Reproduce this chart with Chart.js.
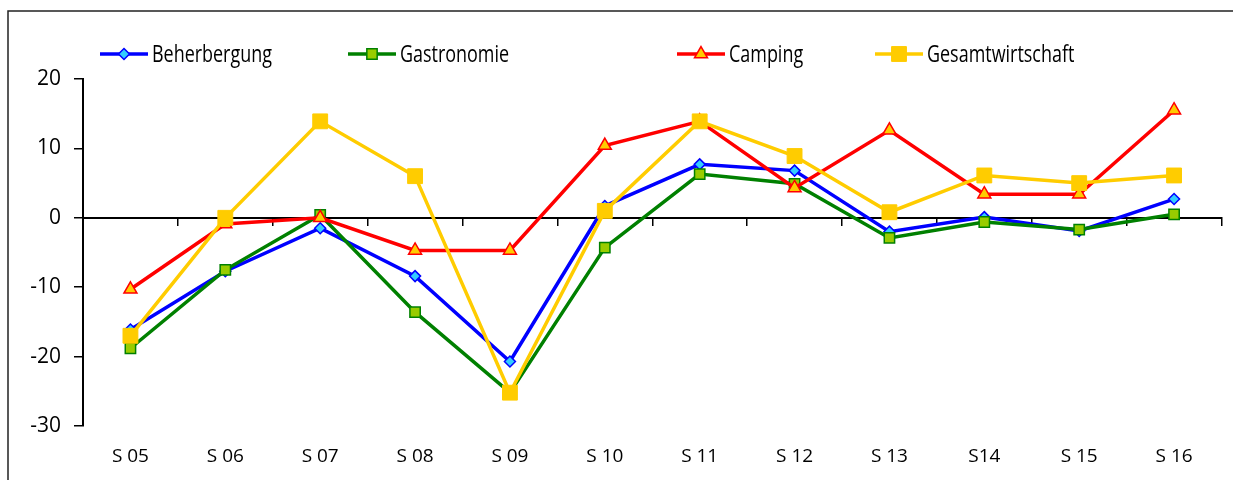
<!DOCTYPE html>
<html><head><meta charset="utf-8">
<script src="https://cdn.jsdelivr.net/npm/chart.js@4.4.1/dist/chart.umd.min.js"></script>
<style>html,body{margin:0;padding:0;background:#fff;} #wrap{width:1233px;height:480px;position:relative;}</style>
</head><body><div id="wrap"><canvas id="c"></canvas></div>
<script>
const categories = ['S 05','S 06','S 07','S 08','S 09','S 10','S 11','S 12','S 13','S14','S 15','S 16'];
const beherbergung = [-16.1,-7.7,-1.5,-8.4,-20.7,1.7,7.7,6.8,-2.0,0.1,-1.9,2.7];
const gastronomie = [-18.8,-7.5,0.4,-13.6,-25.2,-4.3,6.3,4.9,-2.9,-0.6,-1.7,0.5];
const camping = [-10.3,-0.9,0.0,-4.7,-4.7,10.4,13.9,4.3,12.6,3.4,3.4,15.5];
const gesamtwirtschaft = [-17.0,0.0,13.9,6.0,-25.2,1.0,13.9,8.9,0.8,6.1,5.0,6.1];
const seriesNames = ['Beherbergung','Gastronomie','Camping','Gesamtwirtschaft'];
const yMin = -30, yMax = 20, yStep = 10;

const tickFont = "'Open Sans', 'DejaVu Sans', sans-serif";
const legendFont = "'Open Sans', 'DejaVu Sans Condensed', sans-serif";

function drawMarker(ctx, style, x, y, r, fill, stroke, bw) {
  ctx.save();
  ctx.beginPath();
  if (style === 'rect') {
    const s = r * Math.SQRT1_2;
    ctx.rect(x - s, y - s, 2 * s, 2 * s);
  } else if (style === 'rectRot') {
    ctx.moveTo(x, y - r); ctx.lineTo(x + r, y); ctx.lineTo(x, y + r); ctx.lineTo(x - r, y); ctx.closePath();
  } else if (style === 'triangle') {
    const a = -Math.PI / 2;
    ctx.moveTo(x + Math.cos(a) * r, y + Math.sin(a) * r);
    ctx.lineTo(x + Math.cos(a + 2 * Math.PI / 3) * r, y + Math.sin(a + 2 * Math.PI / 3) * r);
    ctx.lineTo(x + Math.cos(a + 4 * Math.PI / 3) * r, y + Math.sin(a + 4 * Math.PI / 3) * r);
    ctx.closePath();
  }
  ctx.fillStyle = fill; ctx.fill();
  if (bw) { ctx.lineWidth = bw; ctx.strokeStyle = stroke; ctx.stroke(); }
  ctx.restore();
}

const customLegend = {
  id: 'customLegend',
  afterDraw(chart, args, opts) {
    const ctx = chart.ctx;
    const byLabel = {};
    chart.data.datasets.forEach(d => byLabel[d.label] = d);
    seriesNames.forEach((name, i) => {
      const d = byLabel[name];
      const x0 = opts.starts[i], y = opts.y, len = opts.sampleLen;
      ctx.save();
      ctx.strokeStyle = d.borderColor; ctx.lineWidth = d.borderWidth;
      ctx.beginPath(); ctx.moveTo(x0, y); ctx.lineTo(x0 + len, y); ctx.stroke();
      drawMarker(ctx, d.pointStyle, x0 + len / 2, y, d.pointRadius, d.pointBackgroundColor, d.pointBorderColor, d.pointBorderWidth);
      ctx.fillStyle = '#000';
      ctx.font = opts.font;
      ctx.textBaseline = 'middle';
      ctx.textAlign = 'left';
      ctx.translate(x0 + len + 4, y + 1);
      ctx.scale(opts.stretch, 1);
      ctx.fillText(name, 0, 0);
      ctx.restore();
    });
  }
};

const frame = {
  id: 'frame',
  afterDraw(chart) {
    const ctx = chart.ctx;
    ctx.save();
    ctx.strokeStyle = '#222'; ctx.lineWidth = 1.5;
    ctx.beginPath();
    ctx.moveTo(8, 480); ctx.lineTo(8, 11); ctx.lineTo(1233, 11);
    ctx.stroke();
    ctx.restore();
  }
};

new Chart(document.getElementById('c'), {
  type: 'line',
  data: {
    labels: categories,
    datasets: [
      { label: seriesNames[0], data: beherbergung, borderColor: '#0000FF', borderWidth: 3.5,
        pointStyle: 'rectRot', pointRadius: 5.5, pointBackgroundColor: '#33CCFF', pointBorderColor: '#0000FF', pointBorderWidth: 1.5, order: 4 },
      { label: seriesNames[1], data: gastronomie, borderColor: '#008000', borderWidth: 3.5,
        pointStyle: 'rect', pointRadius: 7.3, pointBackgroundColor: '#99CC00', pointBorderColor: '#008000', pointBorderWidth: 1.5, order: 3 },
      { label: seriesNames[2], data: camping, borderColor: '#FF0000', borderWidth: 3.5,
        pointStyle: 'triangle', pointRadius: 7.5, pointBackgroundColor: '#FFCC00', pointBorderColor: '#FF0000', pointBorderWidth: 1.5, order: 2 },
      { label: seriesNames[3], data: gesamtwirtschaft, borderColor: '#FFCC00', borderWidth: 3.5,
        pointStyle: 'rect', pointRadius: 10.5, pointBackgroundColor: '#FFCC00', pointBorderColor: '#FFCC00', pointBorderWidth: 1, order: 1 }
    ]
  },
  options: {
    responsive: true, maintainAspectRatio: false, animation: false, devicePixelRatio: 1,
    layout: { padding: { left: 0, top: 79, right: 9, bottom: 0 } },
    elements: { line: { tension: 0, fill: false } },
    plugins: {
      legend: { display: false }, tooltip: { enabled: false },
      customLegend: { starts: [100, 348, 677, 875], y: 54, sampleLen: 48, font: "23px " + legendFont, stretch: 0.78 }
    },
    scales: {
      x: { type: 'category', position: 'bottom', offset: true,
        grid: { display: false, drawTicks: false }, border: { display: false },
        ticks: { color: '#000', font: { family: tickFont, size: 19 }, padding: 19, maxRotation: 0, autoSkip: false },
        afterFit(s) { s.height = 54; } },
      x2: { type: 'category', labels: categories, position: { y: 0 }, offset: true,
        grid: { display: true, drawOnChartArea: false, drawTicks: true, tickLength: 7, color: '#000', lineWidth: 1.5, offset: true },
        border: { display: true, color: '#000', width: 2 },
        ticks: { display: false } },
      y: { min: yMin, max: yMax,
        ticks: { stepSize: yStep, color: '#000', font: { family: tickFont, size: 21 }, padding: 13 },
        grid: { drawOnChartArea: false, drawTicks: true, tickLength: 9, color: '#000', lineWidth: 1.5 },
        border: { display: true, color: '#000', width: 2 },
        afterFit(s) { s.width = 83; } }
    }
  },
  plugins: [customLegend, frame]
});
</script></body></html>
